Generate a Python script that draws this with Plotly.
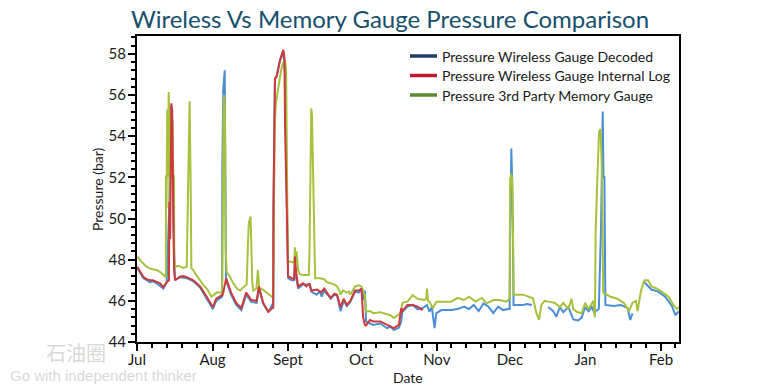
import pandas as pd
import plotly.graph_objects as go

START = "2018-07-01"

# x values: days since 1 July 2018; y values: pressure (bar)
green_days = [0.1, 1.0, 1.9, 3.5, 4.7, 6.0, 8.1, 9.5, 10.5, 11.5, 11.85,
              11.9, 12.1, 12.4, 12.7, 13.0, 13.2, 13.5, 13.8, 14.1, 14.3, 14.6, 14.9, 15.2, 15.3, 15.6,
              17.0, 19.0, 20.4, 20.9, 21.2, 21.6, 22.0, 22.3, 23.1, 24.0, 25.9, 27.0, 28.6, 29.5, 30.6,
              32.7, 34.8, 35.0, 35.2, 35.5, 35.7, 36.0, 36.2, 36.4, 36.8, 38.0, 39.5, 41.0, 42.3, 44.0,
              45.0, 45.6, 45.9, 46.6, 47.0, 47.3, 47.7, 49.0, 49.6, 49.8, 50.2, 51.0, 53.2, 55.0, 55.9,
              56.2, 56.5, 57.0, 58.0, 58.7, 59.5, 60.1, 60.75, 61.2, 61.45, 61.7, 61.9,
              62.5, 63.5, 64.5, 64.8, 65.2, 65.5, 66.1, 66.8, 68.1, 70.5, 70.8, 71.2, 71.5, 71.8, 72.1,
              72.5, 72.8, 73.1, 75.0, 76.8, 78.0, 79.5, 81.0, 82.1, 83.0, 83.5, 84.5, 86.1, 87.0, 87.5,
              88.5, 89.5, 91.0, 92.1, 93.0, 93.5, 94.0, 95.6, 97.0, 99.8, 102.6, 104.0, 105.4, 107.5,
              108.4, 108.9, 111.0, 113.1, 115.1, 117.9, 118.7, 119.0, 119.4, 120.0, 121.4, 122.1, 122.8,
              124.9, 128.9, 131.5, 134.2, 136.2, 138.9, 141.5, 143.5, 146.2, 148.9, 151.5, 152.9,
              153.0, 153.1, 153.4, 153.6, 154.0, 154.3, 154.6, 158.4, 160.4, 162.5, 163.9, 165.0, 165.9,
              167.3, 169.4, 171.5, 173.5, 174.9, 177.0, 178.3, 179.0, 180.4, 182.5, 183.9, 185.3, 187.3,
              187.9, 188.2, 189.0, 189.6, 190.2, 190.4, 190.8, 191.3, 191.5, 194.3, 197.1, 199.8, 201.9,
              203.3, 204.7, 205.4, 206.8, 208.2, 209.7, 211.1, 213.2, 215.3, 218.1, 220.1, 221.6, 222.3]
green_vals = [48.15, 48.0, 47.9, 47.7, 47.6, 47.55, 47.5, 47.4, 47.3, 47.2, 47.1,
              52.1, 50.5, 55.3, 52.0, 56.15, 55.0, 50.0, 55.2, 55.1, 52.0, 54.8, 51.8, 52.1, 48.0, 47.65,
              47.7, 47.6, 47.66, 50.8, 52.9, 55.7, 51.9, 47.6, 47.5, 47.3, 47.0, 46.8, 46.6, 46.4, 46.2,
              46.4, 46.4, 47.0, 52.0, 55.0, 56.0, 55.5, 53.6, 48.5, 47.4, 47.2, 46.85, 46.6, 46.5, 46.7,
              46.8, 49.0, 49.8, 50.1, 48.2, 46.9, 46.5, 46.6, 47.5, 47.0, 46.6, 46.6, 46.4, 46.2, 46.15,
              50.3, 54.5, 55.6, 56.5, 56.9, 57.4, 57.6, 57.7, 57.2, 53.7, 50.0, 48.0,
              47.9, 47.9, 47.85, 48.6, 47.9, 48.4, 47.5, 47.3, 47.25, 47.25, 48.5, 52.5, 55.35, 55.0, 53.0,
              51.0, 49.0, 47.1, 47.1, 47.05, 46.9, 46.85, 46.8, 46.7, 46.5, 46.3, 46.5, 46.4, 46.45, 46.3,
              46.5, 46.7, 46.75, 46.7, 46.4, 46.28, 45.47, 45.5, 45.4, 45.45, 45.35, 45.3, 45.17, 45.35,
              45.5, 45.9, 45.96, 46.28, 46.1, 46.04, 46.1, 46.6, 46.0, 45.96, 45.64, 45.8, 45.96,
              45.96, 45.96, 46.14, 46.04, 46.2, 45.96, 46.14, 45.88, 46.04, 46.04, 45.96, 46.1,
              49.3, 52.0, 51.5, 52.2, 51.8, 49.4, 46.3, 46.3, 46.2, 46.12, 45.4, 45.07, 45.8,
              46.0, 45.95, 45.9, 45.7, 45.9, 45.6, 46.1, 45.6, 45.47, 45.4, 45.9, 45.6, 46.0,
              45.2, 49.4, 52.3, 54.2, 54.35, 53.6, 52.3, 46.4, 46.37, 46.2, 46.1, 45.9, 45.5,
              45.9, 46.0, 45.5, 46.5, 47.0, 47.0, 46.7, 46.6, 46.45, 46.2, 45.8, 45.6, 45.7]

red_days = [0.1, 1.5, 2.6, 4.0, 5.3, 6.5, 8.1, 9.5, 10.8, 11.8, 12.2, 13.1, 13.3, 13.6, 13.8, 14.1,
            14.4, 14.9, 15.2, 15.6, 17.6, 19.0, 20.4, 23.1, 25.9, 28.6, 31.1, 32.5, 34.0, 35.2, 36.6,
            38.6, 40.7, 42.8, 44.8, 46.9, 49.1, 50.0, 51.8, 53.9, 55.9, 56.0, 56.6, 57.3, 58.7, 60.05,
            60.5, 60.75, 61.45, 62.0, 63.5, 64.5, 64.8, 65.2, 66.1, 68.1, 69.5, 70.8, 71.5, 74.0, 75.5,
            76.8, 78.5, 79.5, 81.0, 82.1, 83.5, 84.8, 86.1, 87.5, 89.5, 91.0, 92.1, 92.8, 93.5, 94.0,
            95.6, 97.0, 99.8, 102.6, 104.0, 105.4, 107.5, 108.4, 108.9, 111.0, 113.1, 115.1, 117.2]
red_vals = [47.66, 47.35, 47.17, 47.05, 47.0, 47.0, 46.93, 46.85, 46.67, 46.85, 46.9, 47.0, 50.8, 49.0, 55.5, 55.6,
            55.3, 49.8, 47.5, 47.0, 47.17, 47.2, 47.15, 47.0, 46.7, 46.2, 45.7, 46.1, 46.2, 46.3, 47.1,
            46.4, 45.9, 45.65, 46.4, 46.04, 46.0, 46.7, 45.9, 45.47, 45.7, 50.5, 56.8, 56.9, 57.7, 58.2,
            57.8, 54.5, 50.4, 47.2, 47.1, 47.05, 48.15, 47.5, 46.7, 46.85, 46.7, 46.85, 46.5, 46.55, 46.4,
            46.6, 46.3, 46.14, 46.35, 46.3, 45.7, 46.1, 45.8, 46.0, 46.5, 46.5, 46.6, 45.2, 44.83, 44.8,
            45.07, 45.0, 45.0, 44.83, 44.75, 44.67, 44.83, 45.64, 45.5, 45.8, 45.8, 45.72, 45.55]

blue_days = [0.1, 1.5, 2.6, 4.0, 5.3, 6.5, 8.1, 10.8, 11.8, 12.2, 13.3, 13.8, 14.4, 14.9, 15.6, 17.6,
             20.4, 23.1, 25.9, 28.6, 31.1, 32.5, 34.9, 35.0, 35.4, 36.0, 36.2, 36.5, 38.6, 40.7, 42.8,
             44.8, 46.9, 49.1, 50.0, 51.8, 53.9, 55.6, 55.9, 56.0, 56.6, 57.3, 58.7, 60.05, 60.75, 61.45,
             62.0, 63.5, 64.5, 64.8, 65.2, 66.1, 68.1, 70.8, 71.5, 73.7, 75.0, 75.8, 76.8, 78.5, 79.5,
             81.0, 82.1, 83.5, 84.8, 86.1, 87.5, 89.5, 91.0, 92.5, 93.0, 93.5, 94.0, 95.6, 97.0, 99.8,
             102.6, 104.0, 105.4, 107.5, 108.4, 108.9, 111.0, 113.1, 115.1, 117.2, 119.0, 120.0, 121.0,
             122.1, 122.8, 124.9, 128.9, 131.5, 134.2, 136.2, 138.2, 140.2, 142.2, 144.2, 146.2, 148.2,
             150.2, 152.2, 152.9, 153.1, 153.3, 153.6, 153.9, 154.2, 154.5, 158.4, 160.0, 162.0,
             162.1, 168.6,
             168.7, 170.8, 172.1, 173.5, 174.9, 177.0, 179.0, 181.1, 182.5, 183.9, 185.3, 186.6, 187.6,
             189.5, 190.4, 190.8, 191.1, 191.4, 191.8, 192.0, 192.2, 195.7, 198.5, 201.3, 202.4, 203.3,
             203.4, 208.1,
             208.2, 211.1, 213.9, 216.7, 219.5, 220.9, 222.3]
blue_vals = [47.6, 47.3, 47.1, 47.0, 46.9, 46.95, 46.85, 46.6, 46.8, 46.9, 50.8, 55.5, 55.3, 49.8, 47.0, 47.15,
             47.1, 46.95, 46.65, 46.1, 45.6, 46.0, 46.2, 52.3, 56.3, 57.2, 52.0, 47.0, 46.3, 45.8, 45.55,
             46.3, 45.95, 45.9, 46.6, 45.85, 45.45, 45.85, 45.6, 50.5, 56.8, 56.9, 57.7, 58.1, 57.0, 50.3,
             47.1, 47.0, 47.0, 47.9, 47.3, 46.6, 46.8, 46.8, 46.45, 46.3, 46.45, 46.2, 46.5, 46.25, 46.1,
             46.3, 46.25, 45.5, 46.0, 45.75, 45.95, 46.45, 46.4, 46.6, 46.04, 46.5, 45.0, 44.9, 44.83, 44.9,
             44.67, 44.75, 44.58, 44.7, 45.0, 45.47, 45.72, 45.8, 45.6, 45.65, 45.8, 45.47, 45.7,
             44.67, 45.4, 45.55, 45.55, 45.6, 45.72, 45.6, 45.8, 45.5, 45.88, 45.72, 45.4, 45.72,
             45.55, 45.6, 45.6, 49.0, 52.0, 53.4, 52.0, 50.0, 45.8, 45.8, 45.85, 45.8,
             None, None,
             45.7, 45.5, 45.23, 45.7, 45.45, 45.7, 45.1, 45.05, 45.2, 45.7, 45.5, 45.7, 45.45,
             45.6, 49.5, 52.5, 55.2, 52.0, 52.0, 48.8, 45.8, 45.75, 45.8, 45.65, 45.07, 45.4,
             None, None,
             46.9, 46.55, 46.45, 46.2, 45.75, 45.3, 45.5]

series_names = ["Pressure Wireless Gauge Decoded",
                "Pressure Wireless Gauge Internal Log",
                "Pressure 3rd Party Memory Gauge"]
month_labels = ["Jul", "Aug", "Sept", "Oct", "Nov", "Dec", "Jan", "Feb"]
month_starts = ["2018-07-01", "2018-08-01", "2018-09-01", "2018-10-01",
                "2018-11-01", "2018-12-01", "2019-01-01", "2019-02-01", "2019-03-01"]
y_ticks = [44, 46, 48, 50, 52, 54, 56, 58]

t0 = pd.Timestamp(START)
def to_dates(days):
    return [t0 + pd.Timedelta(days=d) for d in days]

line_cols = ["#4a8ed6", "#cc3a3c", "#a6c23c"]
legend_cols = ["#1c3f66", "#c3162c", "#5d8b32"]

fig = go.Figure()
fig.add_trace(go.Scatter(x=to_dates(blue_days), y=blue_vals, mode="lines", name=series_names[0],
                         line=dict(color=line_cols[0], width=2), showlegend=False,
                         connectgaps=False))
fig.add_trace(go.Scatter(x=to_dates(green_days), y=green_vals, mode="lines", name=series_names[2],
                         line=dict(color=line_cols[2], width=2), showlegend=False))
fig.add_trace(go.Scatter(x=to_dates(red_days), y=red_vals, mode="lines", name=series_names[1],
                         line=dict(color=line_cols[1], width=2), showlegend=False))

ms = [pd.Timestamp(m) for m in month_starts]
minor_vals = []
for a, b in zip(ms[:-1], ms[1:]):
    for k in range(1, 5):
        minor_vals.append(a + (b - a) * k / 5)

end = t0 + pd.Timedelta(days=222.4)
font_main = "Lato, 'Open Sans', sans-serif"

# page body has an 8px margin, so the figure is sized/offset to compensate
W, H = 767, 380
PL, PR, PT, PB = 129, 671, 28, 334

fig.update_layout(
    width=W, height=H,
    margin=dict(l=PL, r=W - PR, t=PT, b=H - PB, autoexpand=False),
    paper_bgcolor="white", plot_bgcolor="white",
    font=dict(family=font_main, size=14, color="#1a1a1a"),
    showlegend=False,
    title=dict(text="Wireless Vs Memory Gauge Pressure Comparison",
               font=dict(family=font_main, size=24, color="#16506d"),
               x=(390 - 8) / W, xref="container", xanchor="center",
               y=1 - 12 / H, yref="container", yanchor="middle"),
    xaxis=dict(type="date", range=[t0, end], automargin=False,
               tickvals=ms[:-1], ticktext=month_labels,
               ticks="outside", ticklen=7, tickwidth=2, tickcolor="black",
               showline=True, linewidth=2, linecolor="black", mirror=True,
               showgrid=False, zeroline=False, ticklabelstandoff=-4,
               tickfont=dict(size=15, color="#1a1a1a"),
               minor=dict(tickvals=minor_vals, ticks="outside", ticklen=4,
                          tickwidth=1.5, tickcolor="black", showgrid=False)),
    yaxis=dict(range=[44, 58.87], tickvals=y_ticks, automargin=False,
               ticks="outside", ticklen=7, tickwidth=2, tickcolor="black",
               showline=True, linewidth=2, linecolor="black", mirror=True,
               showgrid=False, zeroline=False, ticklabelstandoff=-1,
               tickfont=dict(size=15, color="#1a1a1a"),
               minor=dict(dtick=0.4, tick0=44, ticks="outside", ticklen=4,
                          tickwidth=1.5, tickcolor="black", showgrid=False)),
)

def px_x(x):
    return (x - 8 - PL) / (PR - PL)

def px_y(y):
    return (PB - (y - 8)) / (PB - PT)

# legend (drawn as key lines + labels to match the reference spacing)
for i, (name, c) in enumerate(zip(series_names, legend_cols)):
    yy = 56 + i * 19.5
    fig.add_shape(type="line", xref="paper", yref="paper",
                  x0=px_x(410), x1=px_x(437), y0=px_y(yy), y1=px_y(yy),
                  line=dict(color=c, width=3.5))
    fig.add_annotation(text=name, xref="paper", yref="paper", x=px_x(440), y=px_y(yy),
                       xanchor="left", yanchor="middle", showarrow=False,
                       font=dict(size=14, color="#1a1a1a"))

# axis titles
fig.add_annotation(text="Date", xref="paper", yref="paper", x=px_x(408), y=px_y(377),
                   xanchor="center", yanchor="middle", showarrow=False,
                   font=dict(size=14, color="#1a1a1a"))
fig.add_annotation(text="Pressure (bar)", xref="paper", yref="paper", x=px_x(97), y=0.5,
                   xanchor="center", yanchor="middle", textangle=-90, showarrow=False,
                   font=dict(size=14, color="#1a1a1a"))

# faint watermark text seen in the reference
fig.add_annotation(text="石油圈", xref="paper", yref="paper",
                   x=px_x(44), y=px_y(352), xanchor="left", yanchor="middle",
                   showarrow=False, font=dict(size=20, color="rgba(175,175,175,0.5)",
                                              family="Noto Sans CJK SC"))
fig.add_annotation(text="Go with independent thinker", xref="paper", yref="paper",
                   x=px_x(8), y=px_y(375), xanchor="left", yanchor="middle",
                   showarrow=False, font=dict(size=15, color="rgba(175,175,175,0.5)",
                                              family="Liberation Sans"))

fig.write_html("out.html")
